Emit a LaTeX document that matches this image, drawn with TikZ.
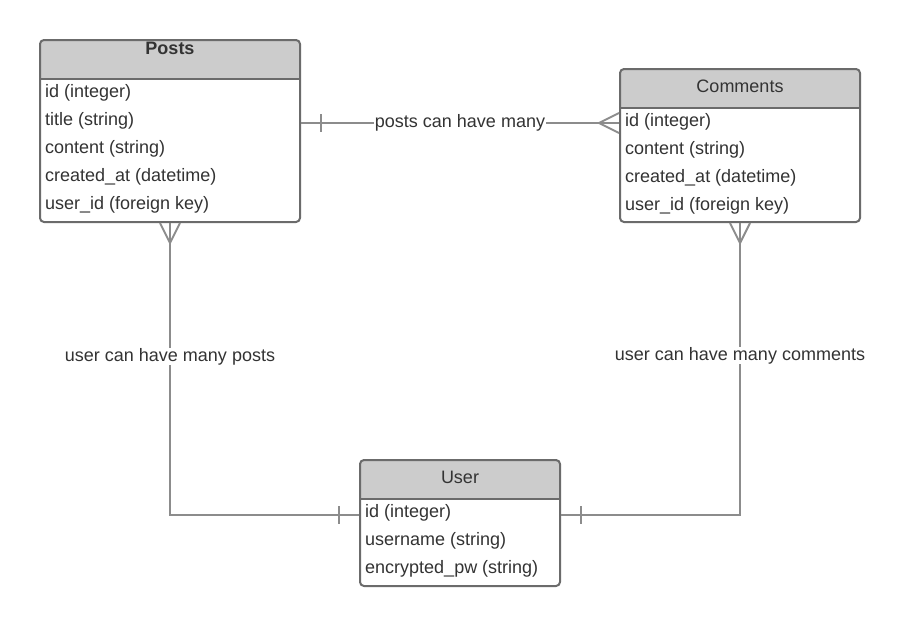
\documentclass[tikz,border=0pt]{standalone}
\usepackage{fontspec}
\setmainfont{Liberation Sans}
\usetikzlibrary{positioning, calc}

\definecolor{boxline}{HTML}{6B6B6B}
\definecolor{headfill}{HTML}{CCCCCC}
\definecolor{relline}{HTML}{8C8C8C}
\definecolor{txt}{HTML}{333333}

\begin{document}
\begin{tikzpicture}[x=1pt, y=-1pt,
  font=\fontsize{18}{21}\selectfont, text=txt,
  tbl/.style={draw=boxline, line width=2pt, rounded corners=4pt, fill=white, inner sep=0pt,
    path picture={
      \fill[headfill, sharp corners] (path picture bounding box.north west) rectangle ([yshift=-39pt]path picture bounding box.north east);
      \draw[boxline, line width=2pt, sharp corners] ([yshift=-39pt]path picture bounding box.north west) -- ([yshift=-39pt]path picture bounding box.north east);
    }},
  row/.style={anchor=west, inner sep=0pt, text height=13pt, text depth=4pt},
  title/.style={inner sep=0pt, text height=13pt, text depth=4pt},
  rel/.style={draw=relline, line width=2pt},
  rellabel/.style={fill=white, inner xsep=1pt, inner ysep=0pt, text height=13pt, text depth=4pt}
]
\useasboundingbox (0,0) rectangle (905,627);

% tables
\node[tbl, minimum width=260pt, minimum height=182pt] (posts) at (170,131) {};
\node[tbl, minimum width=240pt, minimum height=153pt] (comments) at (740,145.5) {};
\node[tbl, minimum width=200pt, minimum height=126pt] (user) at (460,523) {};

\node[title, font=\fontsize{18}{21}\selectfont\bfseries] (posts-title) at ($(posts.north)+(0,10.5)$) {Posts};
\node[title] (comments-title) at ($(comments.north)+(0,19.5)$) {Comments};
\node[title] (user-title) at ($(user.north)+(0,19.5)$) {User};

\foreach \txt [count=\i from 0] in {id (integer), title (string), content (string), created\_at (datetime), user\_id (foreign key)}
  \node[row] (posts-\i) at ($(posts.north west)+(6,53.5+28*\i)$) {\txt};
\foreach \txt [count=\i from 0] in {id (integer), content (string), created\_at (datetime), user\_id (foreign key)}
  \node[row] (comments-\i) at ($(comments.north west)+(6,53.5+28*\i)$) {\txt};
\foreach \txt [count=\i from 0] in {id (integer), username (string), encrypted\_pw (string)}
  \node[row] (user-\i) at ($(user.north west)+(6,53.5+28*\i)$) {\txt};

% relations
\coordinate (pc-start) at (posts.east |- 0,123);
\coordinate (pc-end) at (comments.west |- 0,123);
\coordinate (pu-end) at (user.west |- 0,515);
\coordinate (cu-end) at (user.east |- 0,515);

\draw[rel] (pc-start) -- (pc-end) node[rellabel, pos=0.5] {posts can have many};
\draw[rel] ($(pc-start)+(20,-9)$) -- ++(0,18);
\draw[rel] ($(pc-end)+(0,-10)$) -- ($(pc-end)+(-20,0)$) -- ($(pc-end)+(0,10)$);

\draw[rel] (posts.south) |- (pu-end) node[rellabel, pos=0.2287] {user can have many posts};
\draw[rel] ($(posts.south)+(-10,0)$) -- ($(posts.south)+(0,20)$) -- ($(posts.south)+(10,0)$);
\draw[rel] ($(pu-end)+(-20,-9)$) -- ++(0,18);

\draw[rel] (comments.south) |- (cu-end) node[rellabel, pos=0.227] {user can have many comments};
\draw[rel] ($(comments.south)+(-10,0)$) -- ($(comments.south)+(0,20)$) -- ($(comments.south)+(10,0)$);
\draw[rel] ($(cu-end)+(20,-9)$) -- ++(0,18);
\end{tikzpicture}
\end{document}
